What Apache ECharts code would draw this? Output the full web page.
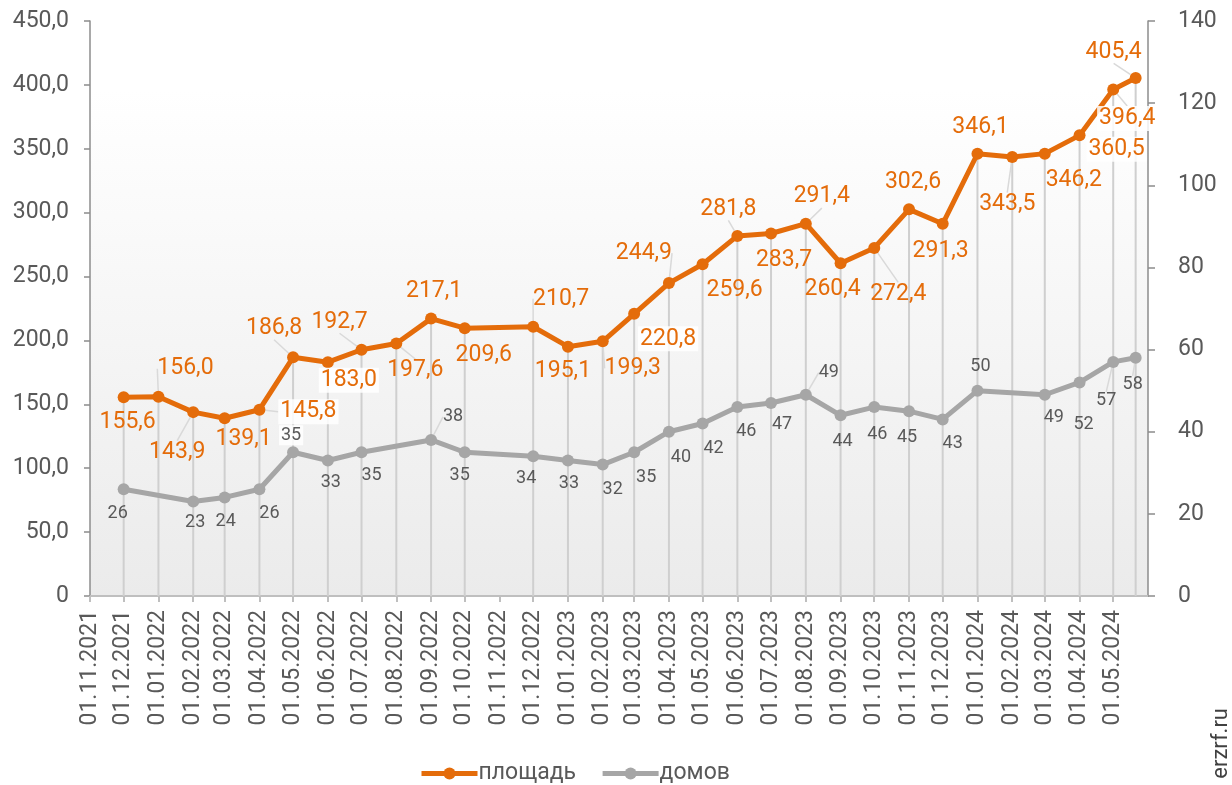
<!DOCTYPE html>
<html>
<head>
<meta charset="utf-8">
<script src="https://cdn.jsdelivr.net/npm/echarts@6/dist/echarts.min.js"></script>
<style>
  html, body { margin: 0; padding: 0; background: #fff; }
  #chart { width: 1232px; height: 785px; }
</style>
</head>
<body>
<div id="chart"></div>
<script>
// data
const dates = [
  '2021-12-01', '2022-01-01', '2022-02-01', '2022-03-01', '2022-04-01', '2022-05-01',
  '2022-06-01', '2022-07-01', '2022-08-01', '2022-09-01', '2022-10-01', '2022-12-01',
  '2023-01-01', '2023-02-01', '2023-03-01', '2023-04-01', '2023-05-01', '2023-06-01',
  '2023-07-01', '2023-08-01', '2023-09-01', '2023-10-01', '2023-11-01', '2023-12-01',
  '2024-01-01', '2024-02-01', '2024-03-01', '2024-04-01', '2024-05-01', '2024-05-21'
];
const area = [
  155.6, 156.0, 143.9, 139.1, 145.8, 186.8, 183.0, 192.7, 197.6, 217.1, 209.6, 210.7,
  195.1, 199.3, 220.8, 244.9, 259.6, 281.8, 283.7, 291.4, 260.4, 272.4, 302.6, 291.3,
  346.1, 343.5, 346.2, 360.5, 396.4, 405.4
];
const houses = [
  26, null, 23, 24, 26, 35, 33, 35, null, 38, 35, 34,
  33, 32, 35, 40, 42, 46, 47, 49, 44, 46, 45, 43,
  50, null, 49, 52, 57, 58
];
const tickLabels = [
  '01.11.2021', '01.12.2021', '01.01.2022', '01.02.2022', '01.03.2022', '01.04.2022',
  '01.05.2022', '01.06.2022', '01.07.2022', '01.08.2022', '01.09.2022', '01.10.2022',
  '01.11.2022', '01.12.2022', '01.01.2023', '01.02.2023', '01.03.2023', '01.04.2023',
  '01.05.2023', '01.06.2023', '01.07.2023', '01.08.2023', '01.09.2023', '01.10.2023',
  '01.11.2023', '01.12.2023', '01.01.2024', '01.02.2024', '01.03.2024', '01.04.2024',
  '01.05.2024'
];
const startDate = '2021-11-01';
const endDate = '2024-06-01';

// label placement: [dx, dy, leader line, white box]
const areaLabelPos = [
  [4, 25, 0, 0], [27, -28, 1, 0], [-16, 40, 1, 0], [19, 21, 0, 0], [49, 2, 1, 1],
  [-19, -29, 1, 0], [21, 18, 0, 1], [-22, -28, 1, 0], [19, 27, 1, 0], [3, -27, 0, 0],
  [19, 27, 0, 0], [28, -28, 1, 0], [-5, 25, 0, 0], [30, 27, 1, 0], [34, 25, 0, 1],
  [-25, -30, 1, 0], [32, 26, 0, 0], [-9, -27, 1, 0], [13, 27, 0, 0], [16, -27, 1, 0],
  [-8, 26, 0, 0], [24, 46, 1, 0], [4, -27, 0, 0], [-2, 27, 0, 0], [3, -27, 0, 0],
  [-5, 47, 1, 0], [29, 27, 0, 0], [37, 14, 0, 1], [14, 29, 1, 1], [-22, -26, 1, 0]
];
const housesLabelPos = [
  [-6, 24, 0, 0], [0, 0, 0, 0], [2, 21, 0, 0], [1, 24, 0, 0], [10, 24, 0, 0],
  [-2, -17, 0, 1], [3, 22, 0, 0], [10, 23, 0, 0], [0, 0, 0, 0], [22, -23, 1, 0],
  [-5, 23, 0, 0], [-7, 22, 0, 0], [1, 23, 0, 0], [10, 25, 0, 0], [12, 25, 0, 0],
  [12, 26, 0, 0], [11, 25, 0, 0], [9, 24, 0, 0], [11, 22, 0, 0], [23, -22, 1, 0],
  [2, 26, 0, 0], [3, 27, 0, 0], [-2, 26, 0, 0], [10, 24, 0, 0], [3, -24, 0, 0],
  [0, 0, 0, 0], [9, 23, 0, 0], [4, 42, 0, 0], [-7, 39, 1, 0], [-3, 27, 1, 0]
];

const ORANGE = '#e46c0a';
const GREY = '#a6a6a6';
const TEXT = '#595959';
const FONT = 'Roboto';

const chart = echarts.init(document.getElementById('chart'));

// days since start, so the x axis keeps real month lengths
const toUTC = s => { const [y, m, d] = s.split('-').map(Number); return Date.UTC(y, m - 1, d); };
const dayOf = s => Math.round((toUTC(s) - toUTC(startDate)) / 86400000);
const tickDays = tickLabels.map(s => dayOf(s.split('.').reverse().join('-')));
const fmtComma = v => (v === 0 ? '0' : v.toFixed(1).replace('.', ','));

const makeItems = (values, pos) =>
  dates.map((d, i) => {
    const p = pos[i];
    const item = { value: [dayOf(d), values[i]], labelLine: { show: !!p[2] } };
    if (p[3]) {
      item.label = { backgroundColor: 'rgba(255,255,255,0.85)', padding: [1, 2] };
    }
    return item;
  });

const options = {
  animation: false,
  textStyle: { fontFamily: FONT },
  grid: {
    left: 90, right: 84, top: 21, bottom: 189,
    show: true,
    borderWidth: 0,
    backgroundColor: new echarts.graphic.LinearGradient(0, 0, 0, 1, [
      { offset: 0, color: '#ffffff' },
      { offset: 0.12, color: '#ffffff' },
      { offset: 1, color: '#ebebeb' }
    ]),
    outerBoundsMode: 'none'
  },
  legend: {
    left: 414, top: 757,
    itemWidth: 56, itemHeight: 15, itemGap: 24,
    data: ['площадь', 'домов'],
    lineStyle: { width: 5 },
    textStyle: { color: TEXT, fontSize: 23, fontFamily: FONT, padding: [0, 0, 0, -4] }
  },
  xAxis: {
    type: 'value',
    min: 0,
    max: dayOf(endDate),
    splitLine: { show: false },
    axisLine: { onZero: false, lineStyle: { color: '#bfbfbf', width: 2 } },
    axisTick: { show: true, customValues: tickDays, length: 6, lineStyle: { color: '#bfbfbf', width: 2 } },
    axisLabel: {
      customValues: tickDays,
      rotate: 90,
      margin: 14,
      color: TEXT,
      fontSize: 23,
      fontFamily: FONT,
      formatter: v => {
        const i = tickDays.indexOf(Math.round(v));
        return i >= 0 ? tickLabels[i] : '';
      }
    }
  },
  yAxis: [
    {
      type: 'value', min: 0, max: 450, interval: 50,
      splitLine: { show: false },
      axisLine: { show: true, lineStyle: { color: '#8c8c8c', width: 1.5 } },
      axisTick: { show: true, length: 6, lineStyle: { color: '#8c8c8c', width: 1.5 } },
      axisLabel: { margin: 21, color: TEXT, fontSize: 23, fontFamily: FONT, formatter: fmtComma }
    },
    {
      type: 'value', min: 0, max: 140, interval: 20, position: 'right',
      splitLine: { show: false },
      axisLine: { show: true, lineStyle: { color: '#8c8c8c', width: 1.5 } },
      axisTick: { show: true, length: 7, lineStyle: { color: '#8c8c8c', width: 1.5 } },
      axisLabel: { margin: 30, color: TEXT, fontSize: 23, fontFamily: FONT }
    }
  ],
  series: [
    {
      name: 'drop',
      type: 'bar',
      yAxisIndex: 0,
      z: 1,
      barWidth: 2,
      silent: true,
      itemStyle: { color: '#cfcfcf' },
      data: dates.map((d, i) => [dayOf(d), area[i]])
    },
    {
      name: 'домов',
      type: 'line',
      yAxisIndex: 1,
      z: 3,
      connectNulls: true,
      symbol: 'circle',
      symbolSize: 12,
      color: GREY,
      lineStyle: { width: 5, color: GREY },
      itemStyle: { color: GREY },
      label: {
        show: true, position: 'inside', align: 'center', verticalAlign: 'middle',
        color: TEXT, fontSize: 18, fontFamily: FONT,
        formatter: p => String(p.value[1])
      },
      labelLine: { show: false, lineStyle: { color: '#d9d9d9', width: 1.5 } },
      labelLayout: p => ({ dx: housesLabelPos[p.dataIndex][0], dy: housesLabelPos[p.dataIndex][1] }),
      data: makeItems(houses, housesLabelPos)
    },
    {
      name: 'площадь',
      type: 'line',
      yAxisIndex: 0,
      z: 4,
      symbol: 'circle',
      symbolSize: 12,
      color: ORANGE,
      lineStyle: { width: 5, color: ORANGE },
      itemStyle: { color: ORANGE },
      label: {
        show: true, position: 'inside', align: 'center', verticalAlign: 'middle',
        color: ORANGE, fontSize: 23, fontFamily: FONT,
        formatter: p => fmtComma(p.value[1])
      },
      labelLine: { show: false, lineStyle: { color: '#d9d9d9', width: 1.5 } },
      labelLayout: p => ({ dx: areaLabelPos[p.dataIndex][0], dy: areaLabelPos[p.dataIndex][1] }),
      data: makeItems(area, areaLabelPos)
    }
  ],
  graphic: [
    {
      type: 'text',
      left: 1210, top: 708,
      rotation: Math.PI / 2,
      style: { text: 'erzrf.ru', fontSize: 22, fontFamily: FONT, fill: '#404040' }
    }
  ]
};

chart.setOption(options);
</script>
</body>
</html>
